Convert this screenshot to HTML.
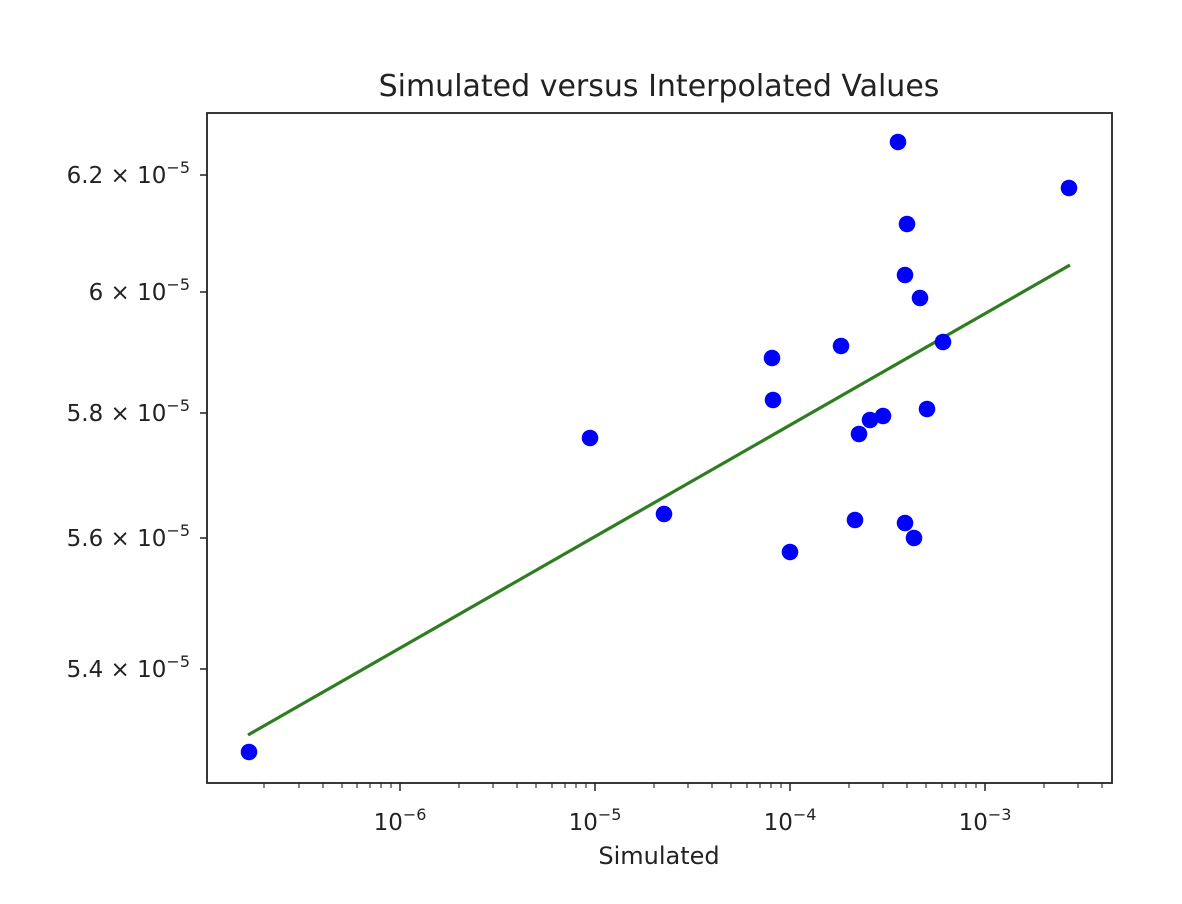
<!DOCTYPE html>
<html><head><style>body{margin:0;background:#fff}</style></head><body>
<svg width="1182" height="899" xmlns="http://www.w3.org/2000/svg" font-family="DejaVu Sans, Liberation Sans, sans-serif">
<rect width="1182" height="899" fill="#fff"/>
<text x="659" y="96" font-size="30" text-anchor="middle" fill="#222">Simulated versus Interpolated Values</text>
<line x1="248" y1="735" x2="1070" y2="265" stroke="#2e7d20" stroke-width="3.2"/>
<g fill="#0000ff">
<circle cx="249" cy="752" r="8.3"/><circle cx="590" cy="438" r="8.3"/><circle cx="664" cy="514" r="8.3"/>
<circle cx="772" cy="358" r="8.3"/><circle cx="773" cy="400" r="8.3"/><circle cx="790" cy="552" r="8.3"/>
<circle cx="841" cy="346" r="8.3"/><circle cx="855" cy="520" r="8.3"/><circle cx="859" cy="434" r="8.3"/>
<circle cx="870" cy="420" r="8.3"/><circle cx="883" cy="416" r="8.3"/><circle cx="898" cy="142" r="8.3"/>
<circle cx="907" cy="224" r="8.3"/><circle cx="905" cy="275" r="8.3"/><circle cx="905" cy="523" r="8.3"/>
<circle cx="914" cy="538" r="8.3"/><circle cx="920" cy="298" r="8.3"/><circle cx="927" cy="409" r="8.3"/>
<circle cx="943" cy="342" r="8.3"/><circle cx="1069" cy="188" r="8.3"/>
</g>
<rect x="207" y="113" width="905" height="670" fill="none" stroke="#222" stroke-width="1.8"/>
<g font-size="23" fill="#222" text-anchor="middle">
<text x="400" y="830">10<tspan dy="-10" font-size="16">−6</tspan></text>
<text x="595" y="830">10<tspan dy="-10" font-size="16">−5</tspan></text>
<text x="790" y="830">10<tspan dy="-10" font-size="16">−4</tspan></text>
<text x="985" y="830">10<tspan dy="-10" font-size="16">−3</tspan></text>
<text x="659" y="864" font-size="24">Simulated</text>
</g>
<g font-size="23" fill="#222" text-anchor="end">
<text x="190" y="183">6.2 × 10<tspan dy="-10" font-size="16">−5</tspan></text>
<text x="190" y="300">6 × 10<tspan dy="-10" font-size="16">−5</tspan></text>
<text x="190" y="421">5.8 × 10<tspan dy="-10" font-size="16">−5</tspan></text>
<text x="190" y="546">5.6 × 10<tspan dy="-10" font-size="16">−5</tspan></text>
<text x="190" y="677">5.4 × 10<tspan dy="-10" font-size="16">−5</tspan></text>
</g>
<g stroke="#222" stroke-width="1.5">
<line x1="200" y1="175" x2="207" y2="175"/><line x1="200" y1="292" x2="207" y2="292"/>
<line x1="200" y1="413" x2="207" y2="413"/><line x1="200" y1="538" x2="207" y2="538"/>
<line x1="200" y1="669" x2="207" y2="669"/>
<line x1="400" y1="783" x2="400" y2="791"/><line x1="595" y1="783" x2="595" y2="791"/>
<line x1="790" y1="783" x2="790" y2="791"/><line x1="985" y1="783" x2="985" y2="791"/>
</g>
<g stroke="#222" stroke-width="1.1">
<line x1="264" y1="783" x2="264" y2="788"/><line x1="299" y1="783" x2="299" y2="788"/><line x1="323" y1="783" x2="323" y2="788"/><line x1="342" y1="783" x2="342" y2="788"/><line x1="357" y1="783" x2="357" y2="788"/><line x1="370" y1="783" x2="370" y2="788"/><line x1="381" y1="783" x2="381" y2="788"/><line x1="391" y1="783" x2="391" y2="788"/>
<line x1="459" y1="783" x2="459" y2="788"/><line x1="493" y1="783" x2="493" y2="788"/><line x1="517" y1="783" x2="517" y2="788"/><line x1="536" y1="783" x2="536" y2="788"/><line x1="552" y1="783" x2="552" y2="788"/><line x1="565" y1="783" x2="565" y2="788"/><line x1="576" y1="783" x2="576" y2="788"/><line x1="586" y1="783" x2="586" y2="788"/>
<line x1="654" y1="783" x2="654" y2="788"/><line x1="688" y1="783" x2="688" y2="788"/><line x1="712" y1="783" x2="712" y2="788"/><line x1="731" y1="783" x2="731" y2="788"/><line x1="747" y1="783" x2="747" y2="788"/><line x1="760" y1="783" x2="760" y2="788"/><line x1="771" y1="783" x2="771" y2="788"/><line x1="781" y1="783" x2="781" y2="788"/>
<line x1="849" y1="783" x2="849" y2="788"/><line x1="883" y1="783" x2="883" y2="788"/><line x1="907" y1="783" x2="907" y2="788"/><line x1="926" y1="783" x2="926" y2="788"/><line x1="942" y1="783" x2="942" y2="788"/><line x1="955" y1="783" x2="955" y2="788"/><line x1="966" y1="783" x2="966" y2="788"/><line x1="976" y1="783" x2="976" y2="788"/>
<line x1="1044" y1="783" x2="1044" y2="788"/><line x1="1078" y1="783" x2="1078" y2="788"/><line x1="1102" y1="783" x2="1102" y2="788"/>
</g>
</svg>
</body></html>
